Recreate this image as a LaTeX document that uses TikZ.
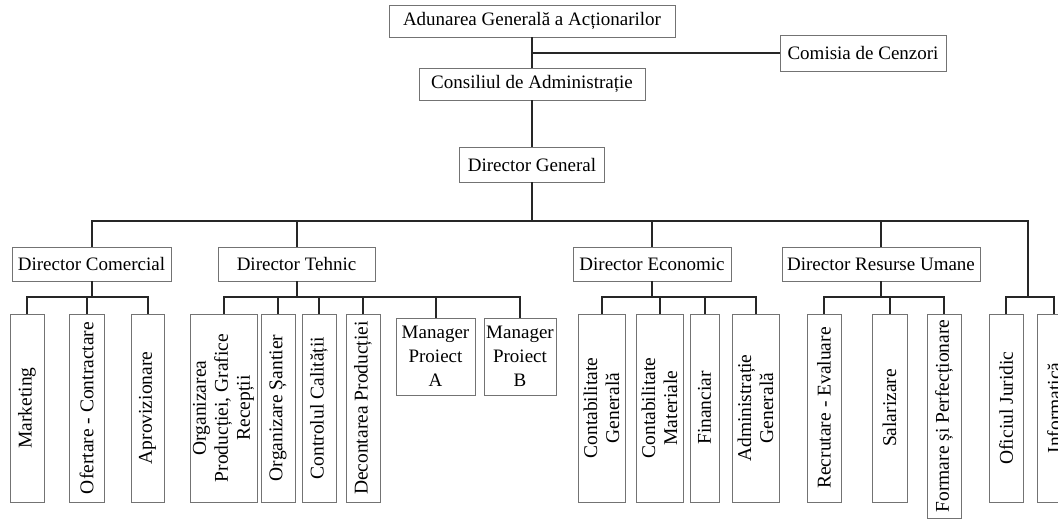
\documentclass[tikz,border=0pt]{standalone}
\usepackage{fontspec}
\setmainfont{Liberation Serif}
\newcommand\hfnt{\fontsize{19}{24}\selectfont}
\newcommand\vfnt{\fontsize{19.5}{22}\selectfont}
\tikzset{
  box/.style={draw=black!55, line width=0.9pt, fill=white, inner sep=0pt, font=\hfnt, align=center},
  vlab/.style={rotate=90, align=center, font=\vfnt, inner sep=0pt},
  conn/.style={draw=black!85, line width=2pt},
}
\begin{document}
\begin{tikzpicture}[x=1pt,y=-1pt]
\useasboundingbox (0,0) rectangle (1058,520);
\fill[white] (0,0) rectangle (1058,520);
\clip (0,0) rectangle (1058,520);
% helper coordinates
\coordinate (b1) at (532,221);
\coordinate (y2) at (0,297);
\coordinate (rj) at (1028,297);
% top levels
\node[box, minimum width=286, minimum height=32] (ag) at (532,21) {Adunarea Generală a Acționarilor};
\node[box, minimum width=166, minimum height=36] (cc) at (863,53) {Comisia de Cenzori};
\node[box, minimum width=226, minimum height=32] (ca) at (532,84) {Consiliul de Administrație};
\node[box, minimum width=145, minimum height=35] (dg) at (532,164.5) {Director General};
% directors
\node[box, minimum width=159, minimum height=34] (dcom) at (91.5,264) {Director Comercial};
\node[box, minimum width=157, minimum height=34] (dteh) at (296.5,264) {Director Tehnic};
\node[box, minimum width=158, minimum height=34] (deco) at (652,264) {Director Economic};
\node[box, minimum width=198, minimum height=34] (dru) at (881,264) {Director Resurse Umane};
% comercial
\node[box, minimum width=34, minimum height=188, label={[vlab]center:Marketing}] (mk) at (27,408) {};
\node[box, minimum width=35, minimum height=188, label={[vlab]center:Ofertare - Contractare}] (of) at (86.5,408) {};
\node[box, minimum width=33, minimum height=188, label={[vlab]center:Aprovizionare}] (ap) at (147.5,408) {};
% tehnic
\node[box, minimum width=67, minimum height=188, label={[vlab]center:{Organizarea\\Producției, Grafice\\Recepții}}] (op) at (223.5,408) {};
\node[box, minimum width=34, minimum height=188, label={[vlab]center:Organizare Șantier}] (os) at (278,408) {};
\node[box, minimum width=34, minimum height=188, label={[vlab]center:Controlul Calității}] (cq) at (319,408) {};
\node[box, minimum width=34, minimum height=188, label={[vlab]center:Decontarea Producției}] (dp) at (363,408) {};
\node[box, minimum width=79, minimum height=77] (ma) at (435.5,356.5) {Manager\\Proiect\\A};
\node[box, minimum width=72, minimum height=77] (mb) at (520,356.5) {Manager\\Proiect\\B};
% economic
\node[box, minimum width=47, minimum height=188, label={[vlab]center:{Contabilitate\\Generală}}] (cgen) at (601.5,408) {};
\node[box, minimum width=47, minimum height=188, label={[vlab]center:{Contabilitate\\Materiale}}] (cmat) at (659.5,408) {};
\node[box, minimum width=29, minimum height=188, label={[vlab]center:Financiar}] (fin) at (704.5,408) {};
\node[box, minimum width=47, minimum height=188, label={[vlab]center:{Administrație\\Generală}}] (adm) at (755.5,408) {};
% resurse umane
\node[box, minimum width=34, minimum height=188, label={[vlab]center:Recrutare - Evaluare}] (rec) at (824,408) {};
\node[box, minimum width=35, minimum height=188, label={[vlab]center:Salarizare}] (sal) at (889.5,408) {};
\node[box, minimum width=34, minimum height=204, label={[vlab]center:Formare și Perfecționare}] (form) at (944,416) {};
% right column
\node[box, minimum width=34, minimum height=188, label={[vlab]center:Oficiul Juridic}] (oj) at (1006,408) {};
\node[box, minimum width=34, minimum height=188, label={[vlab]center:Informatică}] (inf) at (1054,408) {};
% connectors top
\draw[conn] (ag.south) -- (ca.north);
\draw[conn] (cc.west) -- (cc.west -| ag.south);
\draw[conn] (ca.south) -- (dg.north);
\draw[conn] (dg.south) -- (b1);
\foreach \d in {dcom,dteh,deco,dru} \draw[conn] (\d.north) |- (b1);
\draw[conn] (rj) |- (b1);
% comercial
\draw[conn] (dcom.south) -- (dcom.south |- y2);
\foreach \c in {mk,of,ap} \draw[conn] (\c.north) |- (dcom.south |- y2);
% tehnic
\draw[conn] (dteh.south) -- (dteh.south |- y2);
\foreach \c in {op,os,cq,dp,ma,mb} \draw[conn] (\c.north) |- (dteh.south |- y2);
% economic
\draw[conn] (deco.south) -- (deco.south |- y2);
\foreach \c in {cgen,cmat,fin,adm} \draw[conn] (\c.north) |- (deco.south |- y2);
% resurse umane
\draw[conn] (dru.south) -- (dru.south |- y2);
\foreach \c in {rec,sal,form} \draw[conn] (\c.north) |- (dru.south |- y2);
% right
\foreach \c in {oj,inf} \draw[conn] (\c.north) |- (rj);
\end{tikzpicture}
\end{document}
